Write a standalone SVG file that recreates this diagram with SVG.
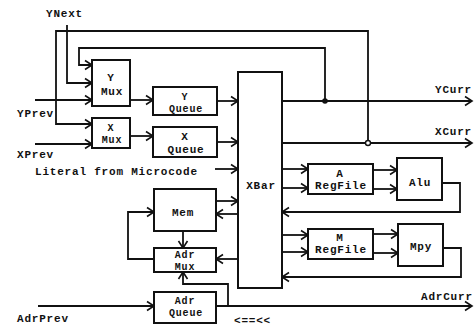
<svg xmlns="http://www.w3.org/2000/svg" width="475" height="327" viewBox="0 0 475 327">
<style>
.box{fill:#fff;stroke:#111;stroke-width:2}
.w{fill:none;stroke:#111;stroke-width:1.8}
.a{marker-end:url(#arr)}
text{font-family:"Liberation Mono","DejaVu Sans Mono",monospace;font-size:11px;letter-spacing:0.8px;fill:#111;font-weight:bold}
.s{font-size:10px}
.c{text-anchor:middle}
</style>
<defs>
<marker id="arr" markerUnits="userSpaceOnUse" markerWidth="12" markerHeight="12" refX="10" refY="6" orient="auto">
<path d="M3,1.5 L10,6 L3,10.5" fill="none" stroke="#111" stroke-width="1.6"/>
</marker>
</defs>
<rect width="475" height="327" fill="#fff"/>
<g id="connectors">
<path class="w a" d="M67,25 V83 H92"/>
<path class="w a" d="M368,143 V31 H56 V124 H92"/>
<path class="w a" d="M325,101 V48 H79 V65 H92"/>
<path class="w a" d="M35,100 H92"/>
<path class="w a" d="M35,144 H92"/>
<path class="w a" d="M130,100 H153"/>
<path class="w a" d="M130,136 H153"/>
<path class="w a" d="M217,101 H238"/>
<path class="w a" d="M217,142 H238"/>
<path class="w a" d="M215,169 H238"/>
<path class="w a" d="M282,101 H472"/>
<path class="w a" d="M282,143 H472"/>
<circle cx="325" cy="101" r="2.8" fill="#111"/>
<circle cx="368" cy="143" r="2.5" fill="#fff" stroke="#111" stroke-width="1.4"/>
<path class="w a" d="M282,169 H308"/>
<path class="w a" d="M282,188 H308"/>
<path class="w a" d="M373,170 H397"/>
<path class="w a" d="M373,189 H397"/>
<path class="w a" d="M442,183 H460 V212 H282"/>
<path class="w a" d="M282,235 H308"/>
<path class="w a" d="M282,252 H308"/>
<path class="w a" d="M373,234 H398"/>
<path class="w a" d="M373,253 H398"/>
<path class="w a" d="M443,248 H461 V277 H282"/>
<path class="w a" d="M216,201 H238"/>
<path class="w a" d="M238,214 H216"/>
<path class="w a" d="M183,231 V248"/>
<path class="w a" d="M238,259 H216"/>
<path class="w a" d="M154,259 H128 V212 H154"/>
<path class="w a" d="M38,306 H154"/>
<path class="w a" d="M216,306 H472"/>
<path class="w a" d="M228,306 V284 H183 V272"/>
</g>
<g id="ymux"><rect class="box" x="92" y="60" width="38" height="46"/><text class="c" x="111" y="81">Y</text><text class="c" x="112" y="95">Mux</text></g>
<g id="xmux"><rect class="box" x="92" y="118" width="38" height="30"/><text class="c s" x="111" y="131">X</text><text class="c s" x="112" y="143">Mux</text></g>
<g id="yqueue"><rect class="box" x="153" y="87" width="64" height="28"/><text class="c s" x="185" y="100">Y</text><text class="c s" x="186" y="112">Queue</text></g>
<g id="xqueue"><rect class="box" x="153" y="127" width="64" height="30"/><text class="c" x="185" y="140">X</text><text class="c" x="186" y="153">Queue</text></g>
<g id="xbar"><rect class="box" x="238" y="72" width="44" height="216"/><text class="c" x="261" y="189">XBar</text></g>
<g id="aregfile"><rect class="box" x="308" y="164" width="65" height="30"/><text class="c" x="340" y="177">A</text><text class="c" x="341" y="189">RegFile</text></g>
<g id="alu"><rect class="box" x="397" y="158" width="45" height="42"/><text class="c" x="420" y="186">Alu</text></g>
<g id="mregfile"><rect class="box" x="308" y="229" width="65" height="30"/><text class="c" x="340" y="241">M</text><text class="c" x="341" y="253">RegFile</text></g>
<g id="mpy"><rect class="box" x="398" y="224" width="45" height="42"/><text class="c" x="421" y="250">Mpy</text></g>
<g id="mem"><rect class="box" x="154" y="189" width="62" height="42"/><text class="c" x="183" y="216">Mem</text></g>
<g id="adrmux"><rect class="box" x="154" y="248" width="62" height="24"/><text class="c s" x="185" y="258">Adr</text><text class="c s" x="185" y="270">Mux</text></g>
<g id="adrqueue"><rect class="box" x="154" y="292" width="62" height="31"/><text class="c s" x="185" y="304">Adr</text><text class="c s" x="186" y="316">Queue</text></g>
<g id="labels">
<text x="46" y="17">YNext</text>
<text x="17" y="117">YPrev</text>
<text x="17" y="158">XPrev</text>
<text x="35" y="175">Literal from Microcode</text>
<text x="17" y="322">AdrPrev</text>
<text x="435" y="93">YCurr</text>
<text x="435" y="135">XCurr</text>
<text x="421" y="300">AdrCurr</text>
<text x="234" y="324">&lt;==&lt;&lt;</text>
</g>
</svg>
